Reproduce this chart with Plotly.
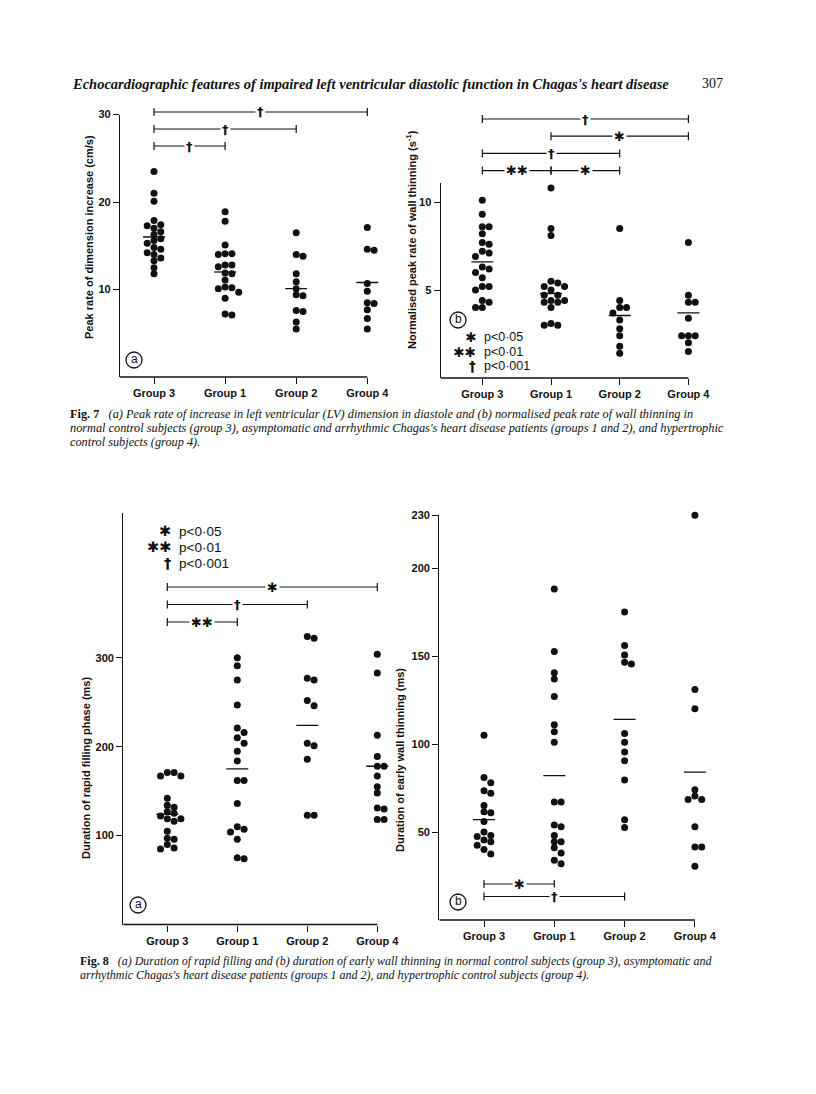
import plotly.graph_objects as go

W, H = 816, 1094

groups = ["Group 3", "Group 1", "Group 2", "Group 4"]

# Fig 7a: peak rate of dimension increase (cm/s)
f7a_g3 = [23.5, 21.0, 20.1, 17.9, 17.4, 17.3, 17.0, 16.6, 16.3, 15.8, 15.6, 15.3, 14.8, 14.6, 14.2, 14.0, 13.6, 13.3, 12.5, 11.8]
f7a_g1 = [18.9, 17.8, 15.1, 14.1, 14.1, 14.0, 12.8, 12.8, 12.6, 11.9, 11.8, 11.1, 10.3, 10.2, 10.1, 9.7, 9.0, 7.2, 7.1]
f7a_g2 = [16.5, 14.0, 13.8, 11.8, 10.9, 10.1, 9.4, 9.3, 7.6, 7.5, 6.3, 5.5]
f7a_g4 = [17.1, 14.6, 14.5, 10.7, 9.8, 8.5, 8.4, 7.7, 6.7, 5.5]
f7a_median = [16.0, 12.0, 10.1, 10.8]
# (from group, to group, symbol, row counted from the top)
f7a_tests = [(0, 3, "†", 0), (0, 2, "†", 1), (0, 1, "†", 2)]

# Fig 7b: normalised peak rate of wall thinning (s-1)
f7b_g3 = [10.1, 9.3, 8.6, 8.6, 8.2, 7.7, 7.6, 7.2, 7.1, 6.9, 6.3, 6.2, 6.0, 5.7, 5.2, 5.2, 5.0, 4.4, 4.3, 4.0, 4.0]
f7b_g1 = [10.8, 8.5, 8.1, 5.5, 5.4, 5.2, 5.2, 5.0, 4.7, 4.7, 4.4, 4.4, 4.3, 4.3, 4.0, 3.1, 3.0, 3.0]
f7b_g2 = [8.5, 4.4, 4.0, 4.0, 3.7, 3.3, 2.8, 2.4, 1.8, 1.4]
f7b_g4 = [7.7, 4.7, 4.3, 4.3, 3.4, 2.4, 2.4, 2.4, 2.0, 1.5]
f7b_median = [6.6, 4.8, 3.55, 3.7]
f7b_tests = [(0, 3, "†", 0), (1, 3, "✱", 1), (0, 2, "†", 2), (0, 1, "✱✱", 3), (1, 2, "✱", 3)]

# Fig 8a: duration of rapid filling phase (ms)
f8a_g3 = [171, 171, 167, 167, 142, 134, 132, 127, 125, 122, 119, 119, 116, 105, 97, 96, 90, 86, 85]
f8a_g1 = [300, 291, 275, 247, 221, 216, 210, 204, 195, 184, 162, 162, 136, 110, 107, 104, 96, 75, 74]
f8a_g2 = [324, 322, 277, 275, 252, 246, 204, 201, 186, 123, 123]
f8a_g4 = [304, 283, 213, 189, 178, 178, 167, 155, 148, 131, 130, 118, 118]
f8a_median = [124, 175, 224, 178]
f8a_tests = [(0, 3, "✱", 0), (0, 2, "†", 1), (0, 1, "✱✱", 2)]

# Fig 8b: duration of early wall thinning (ms)
f8b_g3 = [105, 81, 78, 73.5, 72, 65, 61.5, 61, 56, 50, 48, 47.5, 45.5, 44.5, 42.5, 40, 37.5]
f8b_g1 = [188, 152.5, 140.5, 137, 127, 111, 107, 101, 67, 67, 54, 53, 48, 44.5, 44.5, 41, 38, 34, 32]
f8b_g2 = [175, 156, 150.5, 146.5, 145.5, 106, 101, 95.5, 90.5, 79.5, 57, 52.5]
f8b_g4 = [230, 131, 120, 74, 70.5, 68.5, 68.5, 53, 41.5, 41.5, 30.5]
f8b_median = [57, 82, 114, 84]
f8b_tests = [(0, 1, "✱", 0), (0, 2, "†", 1)]

key_symbols = ["✱", "✱✱", "†"]
key_texts = ["p<0·05", "p<0·01", "p<0·001"]

header = "Echocardiographic features of impaired left ventricular diastolic function in Chagas's heart disease"
page_no = "307"
cap7 = ["<b>Fig. 7</b>   <i>(a) Peak rate of increase in left ventricular (LV) dimension in diastole and (b) normalised peak rate of wall thinning in</i>",
        "<i>normal control subjects (group 3), asymptomatic and arrhythmic Chagas's heart disease patients (groups 1 and 2), and hypertrophic</i>",
        "<i>control subjects (group 4).</i>"]
cap8 = ["<b>Fig. 8</b>   <i>(a) Duration of rapid filling and (b) duration of early wall thinning in normal control subjects (group 3), asymptomatic and</i>",
        "<i>arrhythmic Chagas's heart disease patients (groups 1 and 2), and hypertrophic control subjects (group 4).</i>"]

OFF = 8  # the page body margin


def px(x):
    return (x - OFF) / W


def py(y):
    return 1 - (y - OFF) / H


# pixel geometry of each panel on the page
panels = [
    dict(vals=[f7a_g3, f7a_g1, f7a_g2, f7a_g4], med=f7a_median, tests=f7a_tests,
         title="Peak rate of dimension increase (cm/s)", ticks=[10, 20, 30], ytop=30,
         ax_left=120, g0=154, step=71.1, base=377, ppu=8.75,
         title_xy=(89, 237), test_top=112, test_gap=17, letter="a", letter_xy=(134, 360), key=None),
    dict(vals=[f7b_g3, f7b_g1, f7b_g2, f7b_g4], med=f7b_median, tests=f7b_tests,
         title="Normalised peak rate of wall thinning (s<sup>-1</sup>)", ticks=[5, 10], ytop=11.06,
         ax_left=440.7, g0=482.3, step=68.7, base=378, ppu=17.6,
         title_xy=(411, 240), test_top=119, test_gap=17.2, letter="b", letter_xy=(458, 320),
         key=(478, 337, 14.5, 12.5)),
    dict(vals=[f8a_g3, f8a_g1, f8a_g2, f8a_g4], med=f8a_median, tests=f8a_tests,
         title="Duration of rapid filling phase (ms)", ticks=[100, 200, 300], ytop=463,
         ax_left=123.3, g0=167.3, step=70, base=924.5, ppu=0.889,
         title_xy=(86, 768), test_top=587, test_gap=17.5, letter="a", letter_xy=(138, 905),
         key=(173, 531, 16, 13.5)),
    dict(vals=[f8b_g3, f8b_g1, f8b_g2, f8b_g4], med=f8b_median, tests=f8b_tests,
         title="Duration of early wall thinning (ms)", ticks=[50, 100, 150, 200, 230], ytop=230,
         ax_left=439.3, g0=484, step=70.3, base=920, ppu=1.76,
         title_xy=(400, 760), test_top=884, test_gap=12.5, letter="b", letter_xy=(458, 902), key=None),
]

SANS = "Liberation Sans"
SERIF = "Liberation Serif"
INK = "#111111"


def swarm(vals, ppu, step, d=6.8):
    # place dots side by side when they would overlap
    placed, offs = [], []
    for v in vals:
        ox = 0
        for k in [0, 1, -1, 2, -2, 3, -3]:
            ox = k * d
            if all((ox - qx) ** 2 + ((v - qv) * ppu) ** 2 >= (0.9 * d) ** 2 for qx, qv in placed):
                break
        placed.append((ox, v))
        offs.append(ox / step)
    return offs


def note(x, y, text, xref="paper", yref="paper", xanchor="center", size=12, family=SANS, **kw):
    return dict(xref=xref, yref=yref, x=x, y=y, text=text, showarrow=False,
                xanchor=xanchor, yanchor="middle",
                font=dict(family=family, size=size, color=INK, **kw.pop("fontkw", {})), **kw)


def sym_font(s):
    # the dagger is thin, so draw it bold to keep it black
    return dict(weight="bold") if s == "†" else {}


fig = go.Figure()
shapes = []
annotations = []
layout_axes = {}

for i, p in enumerate(panels, start=1):
    sfx = "" if i == 1 else str(i)
    xa, ya = "x" + sfx, "y" + sfx
    xl = (p["ax_left"] - p["g0"]) / p["step"]
    xr = 3.45
    layout_axes["xaxis" + sfx] = dict(
        domain=[px(p["ax_left"]), px(p["g0"] + xr * p["step"])], range=[xl, xr], anchor=ya,
        showline=False, showgrid=False, zeroline=False, ticks="outside", ticklen=6, tickwidth=1.3,
        tickcolor=INK, tickvals=[0, 1, 2, 3], ticktext=groups, automargin=False,
        tickfont=dict(family=SANS, size=11, color=INK, weight="bold"))
    layout_axes["yaxis" + sfx] = dict(
        domain=[py(p["base"]), py(p["base"] - p["ytop"] * p["ppu"])], range=[0, p["ytop"]], anchor=xa,
        showline=True, linecolor=INK, linewidth=1.3, showgrid=False, zeroline=False,
        ticks="outside", ticklen=6, tickwidth=1.3, tickcolor=INK, tickvals=p["ticks"], automargin=False,
        tickfont=dict(family=SANS, size=11, color=INK, weight="bold"))

    # x axis line stops at the last group
    shapes.append(dict(type="line", xref=xa, yref=ya + " domain", x0=xl, x1=3, y0=0, y1=0,
                       line=dict(color=INK, width=1.3)))

    for g, vals in enumerate(p["vals"]):
        offs = swarm(vals, p["ppu"], p["step"])
        fig.add_trace(go.Scatter(x=[g + o for o in offs], y=vals, mode="markers",
                                 marker=dict(size=7, color=INK), xaxis=xa, yaxis=ya,
                                 cliponaxis=False, showlegend=False, hoverinfo="skip"))

    hw = 11 / p["step"]
    for g, m in enumerate(p["med"]):
        shapes.append(dict(type="line", xref=xa, yref=ya, x0=g - hw, x1=g + hw, y0=m, y1=m,
                           line=dict(color=INK, width=1.3)))

    # significance brackets
    for a, b, sym, row in p["tests"]:
        yy = py(p["test_top"] + row * p["test_gap"])
        shapes.append(dict(type="line", xref=xa, yref="paper", x0=a, x1=b, y0=yy, y1=yy,
                           line=dict(color=INK, width=1.2)))
        for e in (a, b):
            shapes.append(dict(type="line", xref=xa, yref="paper", x0=e, x1=e,
                               y0=yy - 4 / H, y1=yy + 4 / H, line=dict(color=INK, width=1.2)))
        annotations.append(note((a + b) / 2, yy, sym, xref=xa, bgcolor="white", borderpad=1,
                                family="DejaVu Sans", size=13, fontkw=sym_font(sym)))

    # panel letter in a circle
    cx, cy = p["letter_xy"]
    shapes.append(dict(type="circle", xref="paper", yref="paper", x0=px(cx - 8), x1=px(cx + 8),
                       y0=py(cy + 8), y1=py(cy - 8), line=dict(color=INK, width=1.3)))
    annotations.append(note(px(cx), py(cy - 1), p["letter"], size=12))

    annotations.append(note(px(p["title_xy"][0]), py(p["title_xy"][1]), p["title"], size=11,
                            textangle=-90, fontkw=dict(weight="bold")))

    if p["key"]:
        kx, ky, kgap, ksize = p["key"]
        for j, (s, t) in enumerate(zip(key_symbols, key_texts)):
            annotations.append(note(px(kx), py(ky + j * kgap), s, xanchor="right",
                                    family="DejaVu Sans", size=ksize + 1, fontkw=sym_font(s)))
            annotations.append(note(px(kx + 4), py(ky + j * kgap), t, xanchor="left", size=ksize))

# page header and captions
annotations.append(note(px(70), py(84), "<i>" + header + "</i>", xanchor="left", family=SERIF,
                        size=14.5, fontkw=dict(weight="bold")))
annotations.append(note(px(700), py(84), page_no, xanchor="left", family=SERIF, size=14))
for j, line in enumerate(cap7):
    annotations.append(note(px(68), py(414 + j * 14), line, xanchor="left", family=SERIF, size=12.3))
for j, line in enumerate(cap8):
    annotations.append(note(px(78), py(961 + j * 14), line, xanchor="left", family=SERIF, size=12))

fig.update_layout(width=W, height=H, margin=dict(l=0, r=0, t=0, b=0, autoexpand=False),
                  paper_bgcolor="white", plot_bgcolor="white",
                  shapes=shapes, annotations=annotations, **layout_axes)

fig.write_html("out.html")
